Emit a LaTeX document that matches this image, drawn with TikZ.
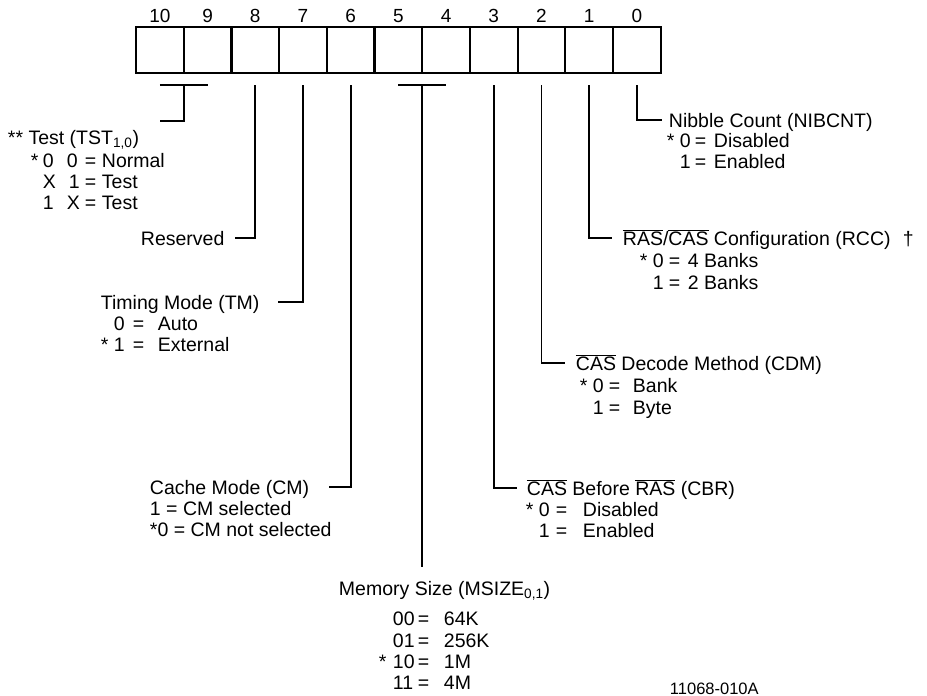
\documentclass[tikz,border=0pt]{standalone}
\usepackage{fontspec}
\setmainfont{Liberation Sans}
\usetikzlibrary{calc}
\newcommand\ovl[1]{$\overline{\hbox{#1}}$}
\newcommand\optrow[8]{%
  \node[lbl] at (#2,#1) {#3};
  \node[lbl] at (#4,#1) {#5};
  \node[lbl] at (#6,#1) {=};
  \node[lbl] at (#7,#1) {#8};}
\begin{document}
\begin{tikzpicture}[x=1pt,y=-1pt,line width=1.9pt,
  every node/.style={font=\fontsize{19.5}{21}\selectfont},
  cell/.style={draw,minimum width=48pt,minimum height=46pt,inner sep=0pt,outer sep=0pt,line width=1.9pt},
  num/.style={anchor=base,inner sep=0pt,font=\fontsize{19}{19}\selectfont},
  lbl/.style={anchor=base west,inner sep=0pt,text height=14pt,text depth=0pt},
  lead/.style={draw,line width=1.9pt}]
\useasboundingbox (0,0) rectangle (927,696);
\fill[white] (0,0) rectangle (927,696);
% register cells
\foreach \b [count=\k from 0] in {10,9,...,0}{
  \node[cell] (b\b) at ({136+47.7*(\k+0.5)},50) {};
  \node[num] (n\b) at ({136+47.7*(\k+0.5)},22) {\b};
  \coordinate (t\b) at ([yshift=-12pt]b\b.south);
}
% labels
\node[lbl] (tst) at (7,144) {** Test (TST\textsubscript{1,0})};
\optrow{167}{30}{*}{42}{0\hspace{13pt}0}{84}{101}{Normal}
\optrow{188}{30}{}{42}{X\hspace{13pt}1}{84}{101}{Test}
\optrow{209}{30}{}{42}{1\hspace{13pt}X}{84}{101}{Test}

\node[lbl] (res) at (140,245) {Reserved};

\node[lbl] (tm) at (100,309) {Timing Mode (TM)};
\optrow{330}{100}{}{113}{0}{132}{157}{Auto}
\optrow{351}{100}{*}{113}{1}{132}{157}{External}

\node[lbl] (cm) at (149,494) {Cache Mode (CM)};
\node[lbl] (cm1) at (149,515) {1 = CM selected};
\node[lbl] (cm2) at (149,536) {*0 = CM not selected};

\node[lbl] (msz) at (338,595) {Memory Size (MSIZE\textsubscript{0,1})};
\optrow{625}{378}{}{392}{00}{417}{443}{64K}
\optrow{647}{378}{}{392}{01}{417}{443}{256K}
\optrow{668}{378}{*}{392}{10}{417}{443}{1M}
\optrow{689}{378}{}{392}{11}{417}{443}{4M}

\node[lbl] (cbr) at (526,495) {\ovl{CAS} Before \ovl{RAS} (CBR)};
\optrow{516}{525}{*}{538}{0}{555}{582}{Disabled}
\optrow{537}{525}{}{538}{1}{555}{582}{Enabled}

\node[lbl] (cdm) at (575,370) {\ovl{CAS} Decode Method (CDM)};
\optrow{392}{579}{*}{592}{0}{608}{632}{Bank}
\optrow{414}{579}{}{592}{1}{608}{632}{Byte}

\node[lbl] (rcc) at (622,245) {\ovl{RAS}/\ovl{CAS} Configuration (RCC)};
\node[lbl] (dag) at (902,245) {†};
\optrow{267}{639}{*}{652}{0}{668}{687}{4 Banks}
\optrow{289}{639}{}{652}{1}{668}{687}{2 Banks}

\node[lbl] (nib) at (668,127) {Nibble Count (NIBCNT)};
\optrow{147}{666}{*}{679}{0}{694}{713}{Disabled}
\optrow{168}{666}{}{679}{1}{694}{713}{Enabled}

\node[lbl,font=\fontsize{16.5}{18}\selectfont] (fig) at (669,694) {11068-010A};

% leaders
\coordinate (m109) at ($(t10)!0.5!(t9)$);
\coordinate (m54) at ($(t5)!0.5!(t4)$);
\coordinate (tstend) at (160,121);
\coordinate (mszend) at (m54 |- 0,567);
\draw[lead] (t10) -- (t9);
\draw[lead] (m109) |- (tstend);
\draw[lead] (t8) |- ([xshift=10pt]res.east);
\draw[lead] (t7) |- ([xshift=18pt]tm.east);
\draw[lead] (t6) |- ([xshift=19pt]cm.east);
\draw[lead] (t5) -- (t4);
\draw[lead] (m54) -- (mszend);
\draw[lead] (t3) |- ([xshift=-9pt]cbr.west);
\draw[lead] (t2) |- ([xshift=-10pt]cdm.west);
\draw[lead] (t1) |- ([xshift=-10pt]rcc.west);
\draw[lead] (t0) |- ([xshift=-6pt]nib.west);
\end{tikzpicture}
\end{document}
